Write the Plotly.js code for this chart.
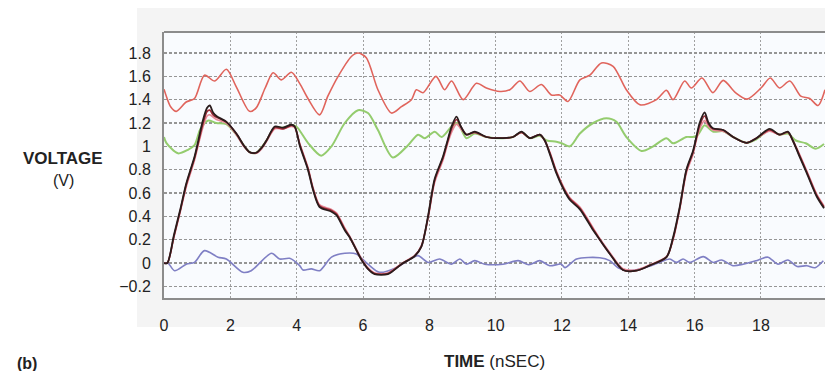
<!DOCTYPE html>
<html>
<head>
<meta charset="utf-8">
<script src="https://cdn.plot.ly/plotly-3.0.1.min.js"></script>
<style>html,body{margin:0;padding:0;background:#fff;}#chart{width:825px;height:371px;}</style>
</head>
<body>
<div id="chart"></div>
<script>
// Time axis (nSEC) for the main overlapping waveforms
var tMain = [0,0.1,0.3,0.5,0.67,0.92,1.05,1.17,1.3,1.38,1.48,1.58,1.88,2.18,2.4,2.58,2.78,2.95,3.09,3.34,3.59,3.84,3.94,4.1,4.34,4.5,4.69,5.05,5.2,5.45,5.6,5.95,6.15,6.35,6.75,7.16,7.56,7.76,7.96,8.16,8.41,8.55,8.67,8.82,8.95,9.12,9.37,9.72,10.22,10.52,10.78,11.03,11.33,11.48,11.65,11.83,12.05,12.24,12.54,12.94,13.14,13.44,13.84,14.24,14.65,15.15,15.35,15.55,15.75,15.95,16.05,16.15,16.3,16.42,16.55,16.86,17.16,17.56,17.86,18.26,18.56,18.81,18.96,19.15,19.38,19.68,19.9];
var vBlack = [0,0,0.24,0.47,0.68,0.91,1.07,1.22,1.33,1.35,1.29,1.26,1.21,1.11,1.01,0.95,0.945,0.99,1.05,1.17,1.16,1.185,1.17,1.0,0.8,0.62,0.48,0.44,0.41,0.28,0.22,0.03,-0.05,-0.095,-0.095,-0.01,0.06,0.14,0.4,0.72,0.91,1.05,1.17,1.255,1.17,1.1,1.126,1.08,1.07,1.08,1.126,1.07,1.1,1.05,0.92,0.77,0.63,0.54,0.46,0.28,0.2,0.08,-0.06,-0.066,-0.02,0.05,0.22,0.48,0.8,0.96,1.08,1.2,1.29,1.2,1.155,1.14,1.08,1.03,1.07,1.15,1.1,1.126,1.05,0.92,0.77,0.57,0.47];
var vMaroon = [0,0,0.23,0.46,0.67,0.9,1.05,1.19,1.3,1.31,1.27,1.25,1.21,1.11,1.01,0.95,0.945,0.99,1.05,1.16,1.15,1.18,1.17,1.01,0.81,0.63,0.49,0.45,0.42,0.29,0.22,0.03,-0.05,-0.09,-0.09,-0.01,0.06,0.14,0.39,0.71,0.9,1.04,1.15,1.23,1.17,1.1,1.12,1.08,1.07,1.08,1.12,1.07,1.1,1.05,0.93,0.78,0.64,0.55,0.47,0.29,0.2,0.08,-0.06,-0.066,-0.02,0.05,0.21,0.47,0.79,0.95,1.07,1.18,1.26,1.19,1.15,1.14,1.08,1.03,1.07,1.14,1.1,1.12,1.05,0.93,0.78,0.58,0.48];
var vPink = [0,0,0.22,0.45,0.65,0.88,1.03,1.16,1.26,1.27,1.25,1.23,1.2,1.1,1.0,0.95,0.94,0.98,1.04,1.15,1.15,1.17,1.16,1.02,0.82,0.64,0.5,0.46,0.43,0.3,0.23,0.04,-0.04,-0.085,-0.085,-0.005,0.065,0.15,0.38,0.69,0.88,1.02,1.12,1.19,1.15,1.1,1.12,1.08,1.07,1.08,1.12,1.07,1.1,1.05,0.94,0.79,0.65,0.56,0.48,0.3,0.21,0.09,-0.05,-0.06,-0.015,0.055,0.2,0.46,0.77,0.93,1.05,1.15,1.22,1.17,1.14,1.13,1.08,1.03,1.07,1.13,1.1,1.12,1.05,0.94,0.79,0.59,0.49];

// Upper red trace
var tRed = [0,0.07,0.2,0.37,0.67,0.92,1.22,1.53,1.88,2.18,2.58,2.78,3.05,3.29,3.54,3.84,4.09,4.34,4.69,4.94,5.25,5.65,5.85,6.1,6.45,6.86,7.16,7.46,7.61,7.81,8.2,8.46,8.67,9.02,9.42,9.72,10.13,10.43,10.73,11.03,11.38,11.68,11.93,12.18,12.54,12.84,13.19,13.54,13.94,14.35,14.85,15.15,15.35,15.7,15.9,16.22,16.55,16.86,17.23,17.58,18.0,18.28,18.56,18.87,19.2,19.47,19.72,19.93];
var vRed = [1.49,1.43,1.34,1.3,1.38,1.41,1.61,1.56,1.66,1.51,1.3,1.33,1.5,1.63,1.57,1.635,1.54,1.41,1.27,1.43,1.6,1.77,1.8,1.76,1.485,1.285,1.34,1.4,1.485,1.46,1.6,1.485,1.56,1.4,1.54,1.5,1.47,1.485,1.56,1.47,1.53,1.44,1.44,1.385,1.57,1.61,1.715,1.686,1.485,1.356,1.4,1.48,1.4,1.56,1.5,1.586,1.46,1.565,1.46,1.405,1.5,1.586,1.5,1.56,1.43,1.41,1.35,1.485];

// Green trace
var tGreen = [0,0.07,0.42,0.72,0.92,1.1,1.32,1.58,1.88,2.18,2.58,2.78,3.09,3.34,3.59,3.84,3.99,4.34,4.74,5.05,5.45,5.85,6.15,6.45,6.9,7.36,7.66,7.86,8.16,8.37,8.67,8.85,9.12,9.37,9.72,10.22,10.52,10.78,11.03,11.33,11.54,11.83,11.99,12.24,12.54,12.94,13.34,13.64,13.94,14.4,14.75,15.15,15.35,15.75,15.95,16.1,16.3,16.55,16.86,17.16,17.56,17.86,18.26,18.56,18.81,19.05,19.35,19.65,19.9];
var vGreen = [1.08,1.03,0.94,0.97,1.01,1.15,1.22,1.2,1.19,1.1,0.95,0.945,1.05,1.16,1.16,1.18,1.17,1.03,0.92,1.0,1.2,1.31,1.285,1.14,0.905,1.01,1.1,1.07,1.126,1.08,1.17,1.2,1.07,1.11,1.08,1.07,1.08,1.12,1.07,1.09,1.05,1.04,1.026,1.0,1.11,1.2,1.24,1.21,1.08,0.96,1.0,1.07,1.026,1.08,1.08,1.1,1.18,1.126,1.13,1.08,1.03,1.06,1.14,1.1,1.11,1.05,1.026,0.98,1.02];

// Blue trace near 0 V
var tBlue = [0,0.12,0.32,0.67,0.92,1.22,1.63,1.88,2.38,2.63,3.24,3.49,3.79,4.09,4.19,4.44,4.69,5.05,5.45,5.8,6.15,6.5,7.0,7.4,7.66,7.96,8.31,8.67,8.92,9.12,9.37,9.67,10.22,10.68,11.0,11.33,11.63,11.98,12.09,12.44,13.14,13.44,13.69,14.0,14.5,14.9,15.25,15.45,15.65,15.85,16.26,16.56,16.81,17.16,17.46,17.86,18.21,18.51,18.81,19.09,19.38,19.63,19.88];
var vBlue = [0,0,-0.066,-0.01,0.005,0.106,0.05,0.034,-0.08,-0.066,0.083,0.034,0.04,-0.023,-0.06,-0.05,-0.066,0.05,0.083,0.077,-0.01,-0.08,-0.04,0.03,0.063,0.005,0.034,-0.01,0.034,-0.01,0.02,-0.01,-0.01,0.02,-0.015,0.02,-0.023,-0.01,-0.04,0.034,0.045,0.02,-0.04,-0.065,-0.04,0.0,0.034,0.005,0.034,0.005,0.055,0.005,0.026,-0.023,-0.01,0.02,0.05,-0.01,0.026,-0.03,-0.023,-0.04,0.02];

// Axis ticks
var xTicks = [0,2,4,6,8,10,12,14,16,18];
var yTicks = [-0.2,0,0.2,0.4,0.6,0.8,1,1.2,1.4,1.6,1.8];

function tr(x, y, color, width) {
  return {x: x, y: y, type: 'scatter', mode: 'lines',
          line: {color: color, width: width, shape: 'spline', smoothing: 0.8},
          hoverinfo: 'skip', showlegend: false};
}

var data = [
  tr(tGreen, vGreen, '#94cc6e', 2),
  tr(tRed, vRed, '#e0645c', 1.6),
  tr(tBlue, vBlue, '#7f7fc4', 1.6),
  tr(tMain, vPink, '#e88a98', 1.6),
  tr(tMain, vMaroon, '#9a2a36', 1.7),
  tr(tMain, vBlack, '#2a1c1c', 1.8)
];

var FONT = 'Liberation Sans, Arial, Helvetica, sans-serif';
var W = 825, H = 371, L = 164, R = 0, T = 32, B = 73;
var pw = W - L - R, ph = H - T - B;
function px(x) { return (x - L) / pw; }
function py(y) { return (H - B - y) / ph; }

var layout = {
  width: W, height: H,
  margin: {l: L, r: R, t: T, b: B, pad: 0},
  paper_bgcolor: '#ffffff',
  plot_bgcolor: 'rgba(0,0,0,0)',
  font: {family: FONT, size: 16, color: '#222'},
  xaxis: {
    range: [0, 19.93], tickvals: xTicks, ticktext: xTicks.map(String),
    showgrid: true, gridcolor: '#a0a0a0', gridwidth: 1, griddash: '2px,2px',
    zeroline: false, showline: true, linecolor: '#8c8c8c', linewidth: 2,
    ticks: '', ticklabelstandoff: 12, tickfont: {family: FONT, size: 16, color: '#222'}
  },
  yaxis: {
    range: [-0.3, 1.98], tickvals: yTicks,
    showgrid: true, gridcolor: '#959595', gridwidth: 1.2, griddash: '3px,2px',
    zeroline: false, showline: true, linecolor: '#8c8c8c', linewidth: 2,
    ticks: '', ticklabelstandoff: 8, tickfont: {family: FONT, size: 16, color: '#222'}
  },
  shapes: [
    {type: 'rect', xref: 'paper', yref: 'paper', x0: px(137), x1: 1.01, y0: py(327), y1: py(8),
     fillcolor: '#f4f4f4', line: {width: 0}, layer: 'below'},
    {type: 'rect', xref: 'paper', yref: 'paper', x0: 0, x1: 1, y0: 0, y1: 1,
     fillcolor: '#f9fbfe', line: {width: 0}, layer: 'below'},
    {type: 'line', xref: 'paper', yref: 'paper', x0: 0, x1: 1, y0: 1, y1: 1,
     line: {color: '#8c8c8c', width: 2}}
  ],
  annotations: [
    {xref: 'paper', yref: 'paper', x: px(63), y: py(158), text: '<b>VOLTAGE</b>', showarrow: false,
     xanchor: 'center', yanchor: 'middle', font: {family: FONT, size: 17, color: '#222'}},
    {xref: 'paper', yref: 'paper', x: px(63), y: py(180), text: '(V)', showarrow: false,
     xanchor: 'center', yanchor: 'middle', font: {family: FONT, size: 16, color: '#222'}},
    {xref: 'paper', yref: 'paper', x: px(494), y: py(361), text: '<b>TIME</b> (nSEC)', showarrow: false,
     xanchor: 'center', yanchor: 'middle', font: {family: FONT, size: 17, color: '#222'}},
    {xref: 'paper', yref: 'paper', x: px(27), y: py(363), text: '<b>(b)</b>', showarrow: false,
     xanchor: 'center', yanchor: 'middle', font: {family: FONT, size: 16, color: '#222'}}
  ]
};

Plotly.newPlot('chart', data, layout, {staticPlot: true, displayModeBar: false});
</script>
</body>
</html>
